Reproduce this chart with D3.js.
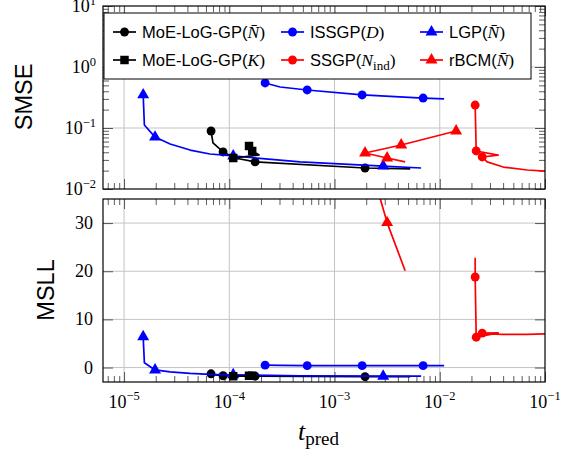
<!DOCTYPE html>
<html><head><meta charset="utf-8">
<script src="https://cdn.jsdelivr.net/npm/d3@7"></script>
<style>body{margin:0;background:#fff}</style>
</head><body>
<svg id="c" width="568" height="454"></svg>
<script>
// ---- data (t_pred, SMSE, MSLL); marks = indices drawn with a marker ----
const moeN_t    = [6.71e-5, 7.0e-5, 8.73e-5, 1.135e-4, 1.76e-4, 1.95e-3, 5.24e-3];
const moeN_smse = [0.0893, 0.0568, 0.0405, 0.0322, 0.0278, 0.0221, 0.0213];
const moeN_msll = [-1.3, -1.5, -1.7, -1.8, -1.8, -1.9, -1.9];
const moeN_marks = [0, 2, 4, 5];

const issgp_t    = [2.19e-4, 3.04e-4, 5.5e-4, 1.83e-3, 6.95e-3, 1.1e-2];
const issgp_smse = [0.547, 0.47, 0.42, 0.348, 0.31, 0.30];
const issgp_msll = [0.5, 0.45, 0.4, 0.4, 0.4, 0.4];
const issgp_marks = [0, 2, 3, 4];

const lgp_t    = [1.52e-5, 1.56e-5, 1.97e-5, 2.74e-5, 4.24e-5, 6.56e-5, 1.09e-4, 4.71e-4, 2.9e-3, 6.65e-3];
const lgp_smse = [0.35, 0.112, 0.071, 0.0547, 0.0435, 0.0375, 0.0348, 0.0278, 0.0238, 0.0221];
const lgp_msll = [6.4, 1.0, -0.5, -0.9, -1.2, -1.4, -1.5, -1.7, -1.8, -1.8];
const lgp_marks = [0, 2, 6, 8];

const moeK_t    = [1.09e-4, 1.92e-4, 1.65e-4, 1.54e-4];
const moeK_smse = [0.0322, 0.0361, 0.042, 0.0507];
const moeK_msll = [-1.8, -1.8, -1.7, -1.7];
const moeK_marks = [0, 2, 3];

const ssgp_t    = [0.0217, 0.0217, 0.0222, 0.0359, 0.0253, 0.0282, 0.0401, 0.0678, 0.1];
const ssgp_smse = [0.24, 0.238, 0.042, 0.036, 0.0335, 0.0278, 0.0229, 0.0205, 0.0197];
const ssgp_msll = [22.8, 18.8, 6.3, 7.2, 7.15, 7.0, 6.9, 6.9, 7.0];
const ssgp_marks = [1, 2, 4];

const rbcm_t    = [0.0143, 4.3e-3, 1.95e-3, 3.16e-3, 4.69e-3];
const rbcm_smse = [0.0893, 0.0526, 0.0389, 0.0322, 0.0278];
const rbcm_msll = [80, 60, 46, 30.1, 20.1];
const rbcm_marks = [0, 1, 2, 3];

const xMajor = [1e-5, 1e-4, 1e-3, 1e-2, 1e-1];
const xMajorExp = ["−5", "−4", "−3", "−2", "−1"];
const yTopMajor = [1e-2, 1e-1, 1e0, 1e1];
const yTopMajorExp = ["−2", "−1", "0", "1"];
const yBotMajor = [0, 10, 20, 30];

// ---- layout ----
const svg = d3.select("#c");
const L = 103, R = 545;
const top1 = 6, bot1 = 189, top2 = 199, bot2 = 382;
const x = d3.scaleLog().domain([Math.pow(10, -5.2), 1e-1]).range([L, R]);
const yT = d3.scaleLog().domain([1e-2, 1e1]).range([bot1, top1]);
const yB = d3.scaleLinear().domain([-3, 35]).range([bot2, top2]);

const series = [
  {name:"moeN", t:moeN_t, a:moeN_smse, b:moeN_msll, marks:moeN_marks, color:"#000", sym:d3.symbolCircle, size:62},
  {name:"issgp", t:issgp_t, a:issgp_smse, b:issgp_msll, marks:issgp_marks, color:"#0000ff", sym:d3.symbolCircle, size:62},
  {name:"lgp", t:lgp_t, a:lgp_smse, b:lgp_msll, marks:lgp_marks, color:"#0000ff", sym:d3.symbolTriangle, size:62},
  {name:"moeK", t:moeK_t, a:moeK_smse, b:moeK_msll, marks:moeK_marks, color:"#000", sym:d3.symbolSquare, size:72},
  {name:"ssgp", t:ssgp_t, a:ssgp_smse, b:ssgp_msll, marks:ssgp_marks, color:"#ff0000", sym:d3.symbolCircle, size:62},
  {name:"rbcm", t:rbcm_t, a:rbcm_smse, b:rbcm_msll, marks:rbcm_marks, color:"#ff0000", sym:d3.symbolTriangle, size:62},
];

const defs = svg.append("defs");
defs.append("clipPath").attr("id","cp1").append("rect").attr("x",L).attr("y",top1).attr("width",R-L).attr("height",bot1-top1);
defs.append("clipPath").attr("id","cp2").append("rect").attr("x",L).attr("y",top2).attr("width",R-L).attr("height",bot2-top2);

function minorLog(dom, lo, hi) {
  const out = [];
  for (let e = lo; e <= hi; e++) for (let m = 2; m <= 9; m++) {
    const v = m * Math.pow(10, e);
    if (v >= dom[0] && v <= dom[1]) out.push(v);
  }
  return out;
}
const xMinor = minorLog(x.domain(), -6, -2);
const yTMinor = minorLog(yT.domain(), -2, 0);

function panel(y, yTop, yBot, yMajor, yMinor, key, clip) {
  const g = svg.append("g");
  g.selectAll(".gx").data(xMajor.filter(v => x(v) > L + 1 && x(v) < R - 1)).join("line")
    .attr("x1", d => x(d)).attr("x2", d => x(d)).attr("y1", yTop).attr("y2", yBot)
    .attr("stroke", "#c4c4c4").attr("stroke-width", 1);
  g.selectAll(".gy").data(yMajor.filter(v => y(v) > yTop + 1 && y(v) < yBot - 1)).join("line")
    .attr("x1", L).attr("x2", R).attr("y1", d => y(d)).attr("y2", d => y(d))
    .attr("stroke", "#c4c4c4").attr("stroke-width", 1);
  const tickStyle = sel => { sel.select(".domain").remove(); sel.selectAll("line").attr("stroke", "#333").attr("stroke-width", 0.8); sel.selectAll("text").remove(); };
  g.append("g").attr("transform", `translate(0,${yBot})`).call(d3.axisBottom(x).tickValues(xMinor).tickSize(-6).tickFormat("")).call(tickStyle);
  g.append("g").attr("transform", `translate(0,${yTop})`).call(d3.axisTop(x).tickValues(xMinor).tickSize(-6).tickFormat("")).call(tickStyle);
  g.append("g").attr("transform", `translate(0,${yBot})`).call(d3.axisBottom(x).tickValues(xMajor).tickSize(-10).tickFormat("")).call(tickStyle);
  g.append("g").attr("transform", `translate(0,${yTop})`).call(d3.axisTop(x).tickValues(xMajor).tickSize(-10).tickFormat("")).call(tickStyle);
  if (yMinor) {
    g.append("g").attr("transform", `translate(${L},0)`).call(d3.axisLeft(y).tickValues(yMinor).tickSize(-6).tickFormat("")).call(tickStyle);
    g.append("g").attr("transform", `translate(${R},0)`).call(d3.axisRight(y).tickValues(yMinor).tickSize(-6).tickFormat("")).call(tickStyle);
  }
  g.append("g").attr("transform", `translate(${L},0)`).call(d3.axisLeft(y).tickValues(yMajor).tickSize(-10).tickFormat("")).call(tickStyle);
  g.append("g").attr("transform", `translate(${R},0)`).call(d3.axisRight(y).tickValues(yMajor).tickSize(-10).tickFormat("")).call(tickStyle);

  const pg = g.append("g").attr("clip-path", `url(#${clip})`);
  series.forEach(s => {
    const pts = s.t.map((t, i) => [x(t), y(s[key][i])]);
    pg.append("path").attr("d", d3.line()(pts)).attr("fill", "none")
      .attr("stroke", s.color).attr("stroke-width", 1.7).attr("stroke-linejoin", "round");
    pg.selectAll(null).data(s.marks).join("path")
      .attr("transform", i => `translate(${pts[i][0]},${pts[i][1]})`)
      .attr("d", d3.symbol().type(s.sym).size(s.size)).attr("fill", s.color);
  });
  g.append("rect").attr("x", L).attr("y", yTop).attr("width", R - L).attr("height", yBot - yTop)
    .attr("fill", "none").attr("stroke", "#000").attr("stroke-width", 1.2);
}

panel(yT, top1, bot1, yTopMajor, yTMinor, "a", "cp1");
panel(yB, top2, bot2, yBotMajor, null, "b", "cp2");

const numFont = "Liberation Serif";
yTopMajor.forEach((v, i) => {
  const t = svg.append("text").attr("x", 96).attr("y", yT(v) + 6).attr("text-anchor", "end")
    .attr("font-family", numFont).attr("font-size", 18);
  t.append("tspan").text("10");
  t.append("tspan").attr("dy", -7).attr("font-size", 12.5).text(yTopMajorExp[i]);
});
yBotMajor.forEach(v => {
  svg.append("text").attr("x", 93).attr("y", yB(v) + 6).attr("text-anchor", "end")
    .attr("font-family", numFont).attr("font-size", 18).text(String(v));
});
xMajor.forEach((v, i) => {
  const t = svg.append("text").attr("x", x(v)).attr("y", 408).attr("text-anchor", "middle")
    .attr("font-family", numFont).attr("font-size", 18);
  t.append("tspan").text("10");
  t.append("tspan").attr("dy", -8).attr("font-size", 12.5).text(xMajorExp[i]);
});
svg.append("text").attr("transform", "translate(32,97) rotate(-90)").attr("text-anchor", "middle")
  .attr("font-family", "Liberation Sans").attr("font-size", 23.5).text("SMSE");
svg.append("text").attr("transform", "translate(54,290) rotate(-90)").attr("text-anchor", "middle")
  .attr("font-family", "Liberation Sans").attr("font-size", 23.5).text("MSLL");
const xl = svg.append("text").attr("x", 298).attr("y", 440).attr("font-family", numFont).attr("font-size", 26);
xl.append("tspan").attr("font-style", "italic").text("t");
xl.append("tspan").attr("dy", 5).attr("font-size", 19).text("pred");

const lg = svg.append("g");
lg.append("rect").attr("x", 104).attr("y", 13).attr("width", 427).attr("height", 66)
  .attr("fill", "#fff").attr("stroke", "#000").attr("stroke-width", 1);
const legendItems = [
  {s:0, col:0, row:0, label:["MoE-LoG-GP(", "N̄", ")"]},
  {s:1, col:1, row:0, label:["ISSGP(", "D", ")"]},
  {s:2, col:2, row:0, label:["LGP(", "N̄", ")"]},
  {s:3, col:0, row:1, label:["MoE-LoG-GP(", "K", ")"]},
  {s:4, col:1, row:1, label:["SSGP(", "N", ")"], sub:"ind"},
  {s:5, col:2, row:1, label:["rBCM(", "N̄", ")"]},
];
const colX = [113, 281, 420];
const rowY = [32, 60];
legendItems.forEach(it => {
  const s = series[it.s];
  const x0 = colX[it.col], y0 = rowY[it.row];
  lg.append("line").attr("x1", x0).attr("x2", x0 + 23).attr("y1", y0).attr("y2", y0)
    .attr("stroke", s.color).attr("stroke-width", 1.7);
  lg.append("path").attr("transform", `translate(${x0 + 11.5},${y0})`)
    .attr("d", d3.symbol().type(s.sym).size(s.size)).attr("fill", s.color);
  const t = lg.append("text").attr("x", x0 + 29).attr("y", y0 + 6)
    .attr("font-family", "Liberation Sans").attr("font-size", 16.5);
  t.append("tspan").text(it.label[0]);
  t.append("tspan").attr("font-family", numFont).attr("font-style", "italic").attr("font-size", 17.5).text(it.label[1]);
  if (it.sub) {
    t.append("tspan").attr("font-family", numFont).attr("font-size", 13).attr("dy", 4).text(it.sub);
    t.append("tspan").attr("dy", -4).attr("font-family", numFont).attr("font-size", 17.5).text(it.label[2]);
  } else {
    t.append("tspan").attr("font-family", numFont).attr("font-size", 17.5).text(it.label[2]);
  }
});
</script>
</body></html>
